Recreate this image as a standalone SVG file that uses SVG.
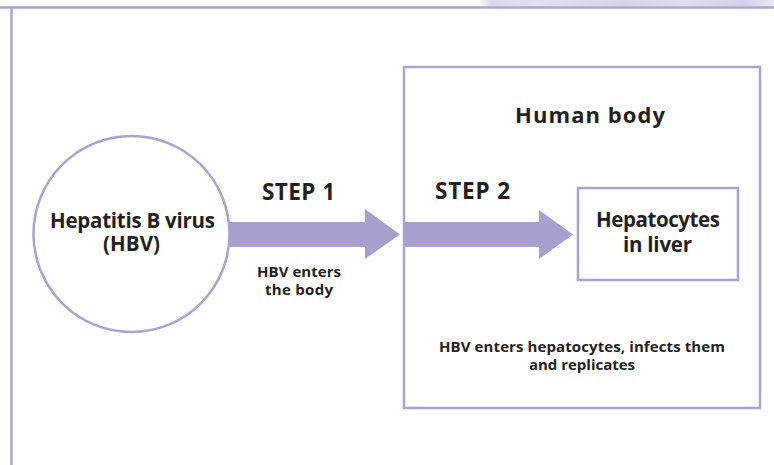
<svg xmlns="http://www.w3.org/2000/svg" width="774" height="465" viewBox="0 0 774 465">
<defs>
<linearGradient id="band" x1="0" y1="0" x2="1" y2="0">
<stop offset="0" stop-color="#ffffff"/>
<stop offset="0.05" stop-color="#ddd5f0"/>
<stop offset="0.2" stop-color="#e4def4"/>
<stop offset="0.5" stop-color="#d9d0ee"/>
<stop offset="0.7" stop-color="#e2dbf3"/>
<stop offset="0.9" stop-color="#d6cdec"/>
<stop offset="1" stop-color="#ebe6f7"/>
</linearGradient>
<style>
.frame{fill:none;stroke:#aaa2d0;stroke-width:2.5}
.box{fill:#ffffff;stroke:#aaa2d0;stroke-width:2.5}
.arrow{fill:#a89fcc;stroke:none}
text{font-family:"Open Sans","Noto Sans","DejaVu Sans",sans-serif;font-weight:bold;fill:#231f20;text-anchor:middle}
.big{font-size:20.5px}
.head{font-size:22px}
.step{font-size:22.5px;text-anchor:start}
.small{font-size:15px}
</style>
</defs>
<rect width="774" height="465" fill="#ffffff"/>
<rect x="477" y="0" width="297" height="6" fill="url(#band)"/>
<g id="frame">
<line class="frame" x1="0" y1="7.5" x2="774" y2="7.5"/>
<line class="frame" x1="11.5" y1="6.5" x2="11.5" y2="465"/>
</g>
<g id="human-body">
<rect class="box" x="404" y="67" width="356" height="341"/>
<text class="head" x="590" y="123" textLength="150" lengthAdjust="spacing">Human body</text>
<text class="small"><tspan x="582" y="352" textLength="286" lengthAdjust="spacing">HBV enters hepatocytes, infects them</tspan><tspan x="582" y="370" textLength="106" lengthAdjust="spacing">and replicates</tspan></text>
</g>
<g id="hbv">
<circle class="box" cx="131.5" cy="234" r="98"/>
<text class="big"><tspan x="132.5" y="228" textLength="165" lengthAdjust="spacing">Hepatitis B virus</tspan><tspan x="131.5" y="251" textLength="57" lengthAdjust="spacing">(HBV)</tspan></text>
</g>
<g id="hepatocytes">
<rect class="box" x="578" y="188" width="160" height="92"/>
<text class="big"><tspan x="658" y="227" textLength="124" lengthAdjust="spacing">Hepatocytes</tspan><tspan x="657.5" y="252" textLength="69" lengthAdjust="spacing">in liver</tspan></text>
</g>
<g id="connectors">
<polygon class="arrow" points="230,222 365,222 365,209 400,234.5 365,259 365,247 230,247"/>
<polygon class="arrow" points="405,222 539,222 539,210 573,234.5 539,259 539,247 405,247"/>
<text class="step" x="262" y="200" textLength="73" lengthAdjust="spacing">STEP 1</text>
<text class="small"><tspan x="299" y="277" textLength="84" lengthAdjust="spacing">HBV enters</tspan><tspan x="299" y="295" textLength="68" lengthAdjust="spacing">the body</tspan></text>
<text class="step" x="435" y="199" textLength="75" lengthAdjust="spacing">STEP 2</text>
</g>
</svg>
